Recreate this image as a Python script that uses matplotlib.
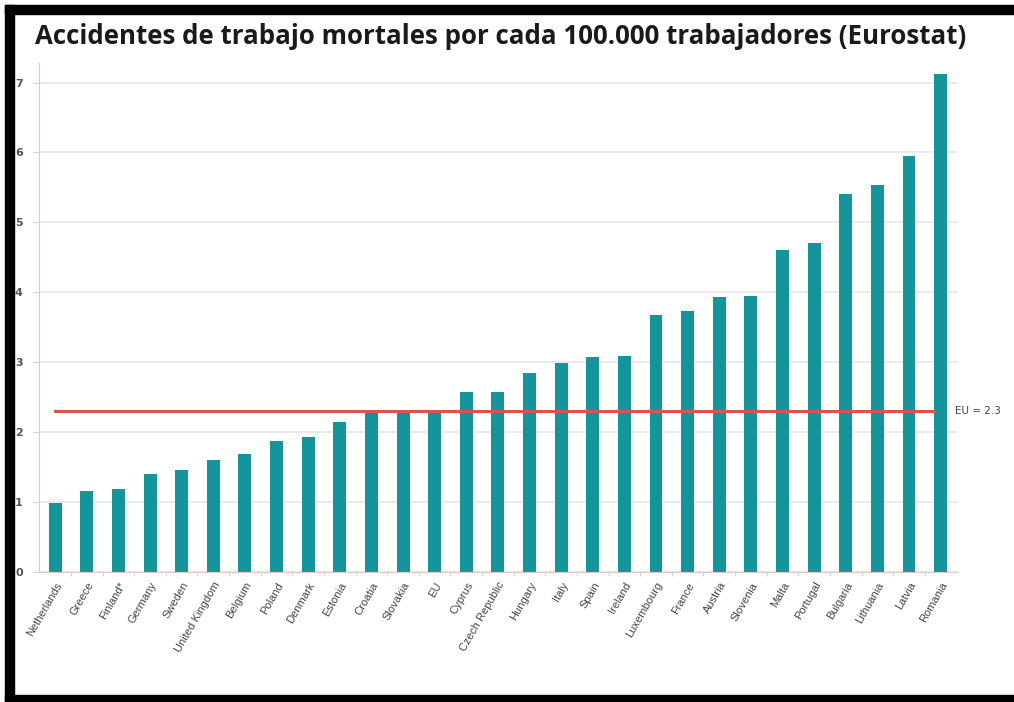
import matplotlib.pyplot as plt
from matplotlib.patches import Rectangle
import numpy as np

# fatal work accidents per 100 000 workers
countries = ['Netherlands', 'Greece', 'Finland*', 'Germany', 'Sweden', 'United Kingdom',
             'Belgium', 'Poland', 'Denmark', 'Estonia', 'Croatia', 'Slovakia', 'EU',
             'Cyprus', 'Czech Republic', 'Hungary', 'Italy', 'Spain', 'Ireland',
             'Luxembourg', 'France', 'Austria', 'Slovenia', 'Malta', 'Portugal',
             'Bulgaria', 'Lithuania', 'Latvia', 'Romania']
rates = [0.99, 1.16, 1.18, 1.40, 1.46, 1.60, 1.69, 1.88, 1.93, 2.14, 2.27, 2.27, 2.27,
         2.58, 2.58, 2.84, 2.99, 3.08, 3.09, 3.68, 3.73, 3.94, 3.95, 4.61, 4.71,
         5.41, 5.54, 5.95, 7.12]
eu_avg = 2.3
yticks = [0, 1, 2, 3, 4, 5, 6, 7]

fig = plt.figure(figsize=(10.14, 7.02), dpi=100)
ax = fig.add_axes([0.0388, 0.1852, 0.906, 0.7251])

x = np.arange(len(countries))
ax.bar(x, rates, width=0.41, color='#12969b', zorder=2)
ax.plot([0, len(countries) - 1.2], [eu_avg, eu_avg], color='#d9534f', lw=2.2, zorder=3)
ax.text(len(countries) - 0.55, eu_avg, 'EU = ' + str(eu_avg), fontsize=7.5,
        color='#444444', va='center', ha='left')

ax.set_xlim(-0.5, len(countries) - 0.45)
ax.set_ylim(0, 7.28)
ax.set_yticks(yticks)
ax.set_yticklabels([str(t) for t in yticks], fontsize=8, color='#555555', fontweight='bold')
ax.yaxis.grid(True, color='#e6e6e6', lw=1.2, zorder=0)
ax.tick_params(axis='y', length=4, color='#d0d0d0', pad=8)

ax.set_xticks(x)
ax.set_xticklabels(countries, rotation=60, ha='right', rotation_mode='anchor',
                   fontsize=8, color='#444444', family='Liberation Sans')
ax.set_xticks(x[:-1] + 0.5, minor=True)
ax.tick_params(axis='x', which='major', length=0, pad=6)
ax.tick_params(axis='x', which='minor', length=3, color='#e3c4c4')

for s in ['top', 'right']:
    ax.spines[s].set_visible(False)
ax.spines['left'].set_color('#cfcfcf')
ax.spines['bottom'].set_color('#e0c8c8')

fig.text(0.035, 0.948, 'Accidentes de trabajo mortales por cada 100.000 trabajadores (Eurostat)',
         fontsize=18.6, fontweight='bold', color='#1a1a1a', family='Open Sans',
         va='center', ha='left')

# black frame round the screenshot
W, H = 1014, 702
for (x0, y0, w, h) in [(5, H - 14, W - 5, 9), (5, 0, 9, H - 5), (5, 0, W - 5, 7)]:
    fig.patches.append(Rectangle((x0 / W, y0 / H), w / W, h / H, transform=fig.transFigure,
                                 color='black', zorder=10))

plt.savefig('out.png', dpi=100)
